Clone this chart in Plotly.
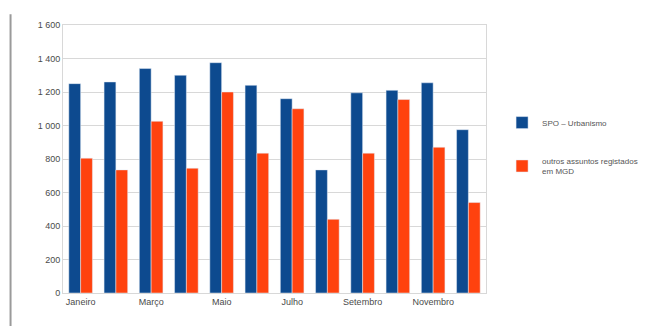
import plotly.graph_objects as go

# Months and monthly counts
meses = ["Janeiro", "Fevereiro", "Março", "Abril", "Maio", "Junho",
         "Julho", "Agosto", "Setembro", "Outubro", "Novembro", "Dezembro"]
spo_urbanismo = [1250, 1260, 1340, 1300, 1375, 1240, 1160, 735, 1195, 1210, 1255, 975]
outros_mgd = [805, 735, 1025, 745, 1200, 835, 1100, 440, 835, 1155, 870, 540]

y_ticks = [0, 200, 400, 600, 800, 1000, 1200, 1400, 1600]
y_labels = ["0", "200", "400", "600", "800", "1 000", "1 200", "1 400", "1 600"]

fig = go.Figure()
fig.add_trace(go.Bar(x=meses, y=spo_urbanismo, name="SPO – Urbanismo",
                     marker_color="#0d4a8f", legendgroup="a"))
fig.add_trace(go.Bar(x=meses, y=outros_mgd, name="outros assuntos registados<br>em MGD",
                     marker_color="#ff420e", legendgroup="b"))

# page body adds 8px margin, so margins are shifted to compensate
fig.update_layout(
    width=664, height=326,
    margin=dict(l=55, r=186, t=13, b=41),
    plot_bgcolor="white", paper_bgcolor="white",
    barmode="group", bargap=0.33, bargroupgap=0,
    font=dict(family="Liberation Sans, Arial, sans-serif", size=9, color="#4a4a4a"),
    legend=dict(x=1.038, y=0.69, xanchor="left", yanchor="top",
                tracegroupgap=22, font=dict(size=8, color="#555")),
)
fig.update_xaxes(tickvals=meses[::2], ticktext=meses[::2], showline=True,
                 linecolor="#d8d8d8", mirror=True, ticks="", showgrid=False)
fig.update_yaxes(range=[0, 1600], tickvals=y_ticks, ticktext=y_labels,
                 showgrid=True, gridcolor="#d8d8d8", showline=True,
                 linecolor="#d8d8d8", mirror=True, zeroline=False)

# grey frame line at the left of the picture
fig.add_shape(type="line", xref="paper", yref="paper",
              x0=-0.124, x1=-0.124, y0=1.04, y1=-0.16,
              line=dict(color="#9a9a9a", width=2))

fig.write_html("out.html")
